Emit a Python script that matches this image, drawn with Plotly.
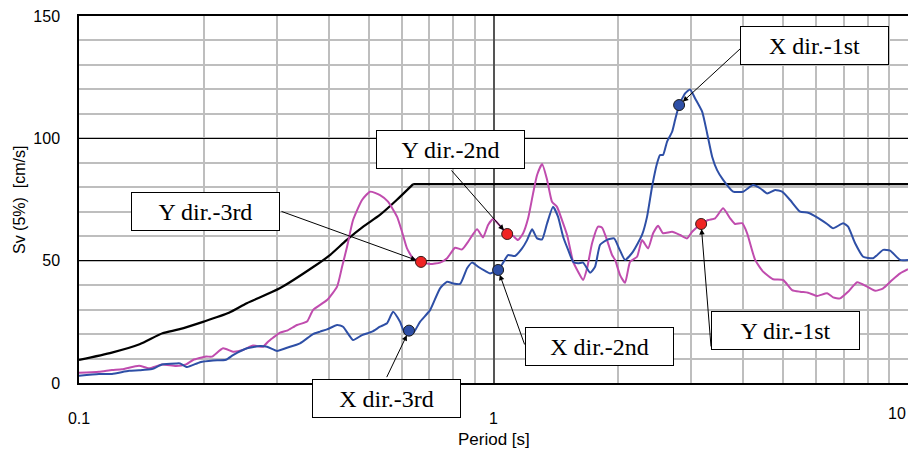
import math
import plotly.graph_objects as go

# ---------------- data ----------------
design_T = [0.1, 0.12, 0.14, 0.159, 0.174, 0.20, 0.23, 0.254, 0.305, 0.368, 0.403,
            0.442, 0.485, 0.532, 0.584, 0.64, 10.0]
design_V = [9.4, 12.4, 15.8, 20.3, 21.9, 25.1, 28.7, 32.6, 38.7, 47.5, 52.3,
            58.4, 63.9, 68.7, 74.8, 81.3, 81.3]

x_T = [0.100, 0.1117, 0.1201, 0.1320, 0.1396, 0.1500, 0.1586, 0.1714, 0.1753, 0.1822,
       0.1959, 0.2106, 0.2263, 0.2353, 0.2543, 0.2734, 0.2842, 0.3005, 0.3176, 0.3414,
       0.3669, 0.3815, 0.3966, 0.4194, 0.4335, 0.4583, 0.4818, 0.5093, 0.5324, 0.5535,
       0.5723, 0.5950, 0.6117, 0.6254, 0.6394, 0.6648, 0.7031, 0.7431, 0.7727, 0.7989,
       0.8306, 0.8635, 0.8878, 0.9180, 0.9544, 0.9811, 1.026, 1.055, 1.084, 1.127,
       1.172, 1.205, 1.239, 1.274, 1.310, 1.347, 1.392, 1.431, 1.472, 1.514,
       1.556, 1.600, 1.645, 1.710, 1.758, 1.808, 1.879, 1.954, 2.009, 2.077,
       2.171, 2.282, 2.347, 2.413, 2.481, 2.523, 2.565, 2.622, 2.697, 2.742,
       2.804, 2.899, 2.981, 3.065, 3.187, 3.277, 3.369, 3.463, 3.581, 3.785,
       4.002, 4.230, 4.398, 4.573, 4.780, 4.969, 5.195, 5.492, 5.742, 6.036,
       6.381, 6.597, 6.974, 7.170, 7.455, 7.795, 8.240, 8.710, 9.055, 9.574, 10.0]
x_V = [3.0, 3.7, 3.7, 5.0, 5.2, 5.7, 7.6, 8.0, 8.0, 6.5,
       8.5, 9.2, 9.5, 11.4, 14.2, 15.1, 14.8, 13.1, 14.4, 16.2,
       20.0, 21.0, 21.9, 23.7, 23.0, 17.6, 19.6, 21.0, 23.0, 24.4,
       29.1, 25.0, 20.3, 21.4, 20.3, 25.0, 29.8, 38.7, 41.4, 40.7,
       40.5, 46.9, 49.2, 47.5, 45.8, 44.8, 46.2, 49.2, 52.3, 51.9,
       55.0, 58.4, 62.8, 59.1, 58.7, 65.3, 72.0, 68.0, 59.8, 54.4,
       49.6, 48.9, 49.2, 45.1, 47.5, 56.5, 58.5, 59.1, 55.0, 50.3,
       53.7, 60.5, 68.0, 80.2, 89.8, 93.2, 93.2, 98.6, 102.7, 107.5,
       113.6, 118.4, 120.0, 116.3, 110.9, 102.0, 92.5, 87.0, 83.0, 78.2,
       78.2, 80.9, 79.6, 77.5, 78.9, 78.2, 74.8, 70.0, 69.6, 67.7,
       65.0, 63.2, 65.3, 63.9, 57.1, 51.6, 51.0, 54.4, 54.1, 50.3, 50.3]

y_T = [0.100, 0.1117, 0.1201, 0.1270, 0.1396, 0.1475, 0.1586, 0.1714, 0.1812, 0.1884,
       0.2025, 0.2094, 0.2226, 0.2353, 0.2487, 0.2629, 0.2780, 0.2858, 0.2939, 0.3055,
       0.3176, 0.3357, 0.3549, 0.3669, 0.3966, 0.4194, 0.4312, 0.4433, 0.4583, 0.4818,
       0.5037, 0.5324, 0.5566, 0.5851, 0.6016, 0.6185, 0.6394, 0.6685, 0.7031, 0.7431,
       0.7727, 0.8078, 0.8398, 0.8683, 0.9128, 0.9437, 0.9703, 0.998, 1.037, 1.079,
       1.115, 1.146, 1.179, 1.212, 1.246, 1.274, 1.310, 1.347, 1.384, 1.423,
       1.463, 1.505, 1.556, 1.600, 1.645, 1.682, 1.729, 1.788, 1.828, 1.879,
       1.932, 1.965, 2.020, 2.077, 2.136, 2.220, 2.282, 2.360, 2.427, 2.495,
       2.565, 2.697, 2.819, 2.931, 3.014, 3.169, 3.295, 3.425, 3.581, 3.723,
       3.827, 3.980, 4.092, 4.278, 4.472, 4.727, 4.997, 5.253, 5.492, 5.742,
       6.036, 6.381, 6.597, 6.859, 7.170, 7.539, 7.969, 8.333, 8.710, 9.158, 9.574, 10.0]
y_V = [4.2, 4.6, 5.3, 5.6, 7.1, 6.0, 7.6, 6.9, 7.6, 9.4,
       10.8, 10.8, 14.2, 12.8, 13.5, 15.3, 14.8, 16.9, 18.5, 20.6,
       21.4, 23.7, 25.1, 29.8, 33.9, 39.4, 47.5, 55.7, 66.6, 74.8,
       78.2, 76.8, 74.1, 68.0, 61.8, 55.0, 51.0, 49.5, 48.6, 49.2,
       51.0, 55.3, 54.6, 57.7, 62.8, 59.5, 64.6, 67.0, 64.2, 60.9,
       60.1, 58.4, 61.2, 67.3, 77.5, 85.0, 89.5, 83.0, 74.1, 72.0,
       66.6, 60.5, 49.6, 45.5, 42.1, 46.9, 57.1, 63.9, 63.5, 58.4,
       52.3, 50.3, 44.1, 41.0, 49.6, 51.6, 58.4, 55.0, 61.2, 64.3,
       61.2, 61.8, 60.5, 59.1, 61.8, 65.0, 66.6, 67.3, 71.4, 67.3,
       65.0, 65.3, 61.2, 50.3, 45.5, 42.4, 42.1, 38.0, 37.3, 36.9,
       35.6, 36.7, 35.0, 34.6, 37.3, 41.2, 39.4, 37.7, 38.7, 42.1, 44.8, 46.5]

# mode points (period, Sv)
x_mode_labels = ["X dir.-1st", "X dir.-2nd", "X dir.-3rd"]
x_mode_T = [2.804, 1.026, 0.6254]
x_mode_V = [113.6, 46.2, 21.4]
y_mode_labels = ["Y dir.-1st", "Y dir.-2nd", "Y dir.-3rd"]
y_mode_T = [3.169, 1.079, 0.6685]
y_mode_V = [65.0, 60.9, 49.5]

x_ticks = [0.1, 1, 10]
x_ticktext = ["0.1", "1", "10"]
x_minor = [0.2, 0.3, 0.4, 0.5, 0.6, 0.7, 0.8, 0.9, 2, 3, 4, 5, 6, 7, 8, 9]
y_ticks = [0, 50, 100, 150]

# ---------------- figure ----------------
BLUE = "#2E4FA6"
PINK = "#C04CAE"

fig = go.Figure()
# design spectrum: curved rising part, then flat plateau
fig.add_trace(go.Scatter(x=design_T[:-1], y=design_V[:-1], mode="lines",
                         line=dict(color="black", width=2.2, shape="spline", smoothing=0.6),
                         showlegend=False))
fig.add_trace(go.Scatter(x=design_T[-2:], y=design_V[-2:], mode="lines",
                         line=dict(color="black", width=2.2), showlegend=False))
fig.add_trace(go.Scatter(x=y_T, y=y_V, mode="lines",
                         line=dict(color=PINK, width=2, shape="spline", smoothing=0.5),
                         showlegend=False))
fig.add_trace(go.Scatter(x=x_T, y=x_V, mode="lines",
                         line=dict(color=BLUE, width=2, shape="spline", smoothing=0.5),
                         showlegend=False))
fig.add_trace(go.Scatter(x=x_mode_T, y=x_mode_V, mode="markers",
                         marker=dict(size=11, color=BLUE, line=dict(color="#1a1a1a", width=1)),
                         showlegend=False))
fig.add_trace(go.Scatter(x=y_mode_T, y=y_mode_V, mode="markers",
                         marker=dict(size=11, color="#F02424", line=dict(color="#3a1a1a", width=1)),
                         showlegend=False))

# layout geometry (page has an 8px body margin)
OFF = 8
W, H = 916 - OFF, 450 - OFF
PL, PT, PR, PB = 79, 16, 908, 383          # plot area in page pixels
L, T = PL - OFF, PT - OFF
R = (W + OFF) - PR
B = (H + OFF) - PB
pw, ph = PR - PL, PB - PT


def px2paper(px, py):
    return (px - PL) / pw, (PB - py) / ph


# label boxes: (text, box centre in page pixels)
boxes = {
    "X dir.-1st": (814.5, 45.5),
    "Y dir.-2nd": (450.5, 149.5),
    "Y dir.-3rd": (205.0, 211.5),
    "Y dir.-1st": (785.0, 330.0),
    "X dir.-2nd": (599.0, 346.5),
    "X dir.-3rd": (386.0, 398.5),
}
# arrow tail offsets in pixels relative to the point
tails = {
    "X dir.-1st": (63, -58),
    "Y dir.-2nd": (-57, -65),
    "Y dir.-3rd": (-141, -51),
    "Y dir.-1st": (10, 124),
    "X dir.-2nd": (27, 76),
    "X dir.-3rd": (-23, 48),
}

annotations = []
points = dict(zip(x_mode_labels, zip(x_mode_T, x_mode_V)))
points.update(dict(zip(y_mode_labels, zip(y_mode_T, y_mode_V))))
for lab, (tx, vy) in points.items():
    ax, ay = tails[lab]
    annotations.append(dict(x=math.log10(tx), y=vy, xref="x", yref="y", text="",
                            showarrow=True, ax=ax, ay=ay, arrowhead=2, arrowsize=1.1,
                            arrowwidth=1, arrowcolor="black", standoff=5))
for lab, (cx, cy) in boxes.items():
    xp, yp = px2paper(cx, cy)
    annotations.append(dict(x=xp, y=yp, xref="paper", yref="paper", text=lab,
                            showarrow=False, xanchor="center", yanchor="middle",
                            font=dict(family="Liberation Serif, Times New Roman, serif",
                                      size=24, color="black"),
                            bgcolor="white", bordercolor="black", borderwidth=1,
                            borderpad=1, width=145, height=35))
# axis titles
xp, yp = px2paper(19, 200)
annotations.append(dict(x=xp, y=yp, xref="paper", yref="paper", text="Sv (5%)  [cm/s]",
                        showarrow=False, textangle=-90, xanchor="center", yanchor="middle",
                        font=dict(size=16, color="black")))
xp, yp = px2paper(494, 439)
annotations.append(dict(x=xp, y=yp, xref="paper", yref="paper", text="Period [s]",
                        showarrow=False, xanchor="center", yanchor="middle",
                        font=dict(size=17, color="black")))
# last x tick label, right-aligned inside the visible page so it is not clipped
xp, yp = px2paper(907, 413)
annotations.append(dict(x=xp, y=yp, xref="paper", yref="paper", text=x_ticktext[-1],
                        showarrow=False, xanchor="right", yanchor="middle", borderpad=0,
                        font=dict(size=16, color="black")))
x_ticktext_axis = x_ticktext[:-1] + [""]

fig.update_layout(
    width=W, height=H,
    margin=dict(l=L, r=R, t=T, b=B),
    paper_bgcolor="white", plot_bgcolor="white",
    font=dict(family="Arial, Liberation Sans, sans-serif", color="black", size=16),
    annotations=annotations,
)
fig.update_xaxes(type="log", range=[-1, 1], tickvals=x_ticks, ticktext=x_ticktext_axis,
                 showgrid=True, gridcolor="#555555", gridwidth=1.5,
                 minor=dict(tickvals=x_minor, showgrid=True, gridcolor="#BEBEBE", gridwidth=1.5),
                 showline=True, linecolor="black", linewidth=1.5, mirror=True,
                 ticks="", ticklabelstandoff=20, tickfont=dict(size=16), automargin=False,
                 ticklabeloverflow="allow")
fig.update_yaxes(range=[0, 150], tickvals=y_ticks, showgrid=True, gridcolor="black",
                 gridwidth=1, zeroline=False,
                 minor=dict(dtick=10, showgrid=True, gridcolor="#BEBEBE", gridwidth=1.5),
                 showline=True, linecolor="black", linewidth=1.5, mirror=True,
                 ticks="", ticklabelstandoff=14, tickfont=dict(size=16), automargin=False,
                 ticklabeloverflow="allow")

fig.write_html("out.html")
